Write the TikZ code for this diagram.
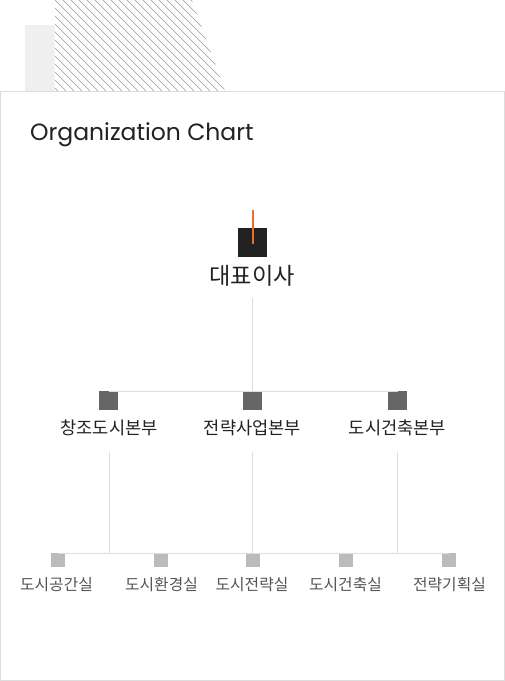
\documentclass[tikz,border=0pt]{standalone}
\usepackage{fontspec}
\setmainfont{Poppins}
\newfontfamily\kr{Noto Sans CJK KR}
\definecolor{boxline}{HTML}{DDDDDD}
\definecolor{deco}{HTML}{EFEFEF}
\definecolor{hatch}{HTML}{999999}
\definecolor{ceofill}{HTML}{222222}
\definecolor{accent}{HTML}{E8702A}
\definecolor{midfill}{HTML}{666666}
\definecolor{lowfill}{HTML}{BBBBBB}
\definecolor{darktext}{HTML}{222222}
\definecolor{lowtext}{HTML}{555555}
\definecolor{conn}{HTML}{DDDDDD}
\tikzset{
  sq/.style={draw=none, inner sep=0pt, outer sep=0pt},
  ceosq/.style={sq, fill=ceofill, minimum size=29pt},
  midsq/.style={sq, fill=midfill, minimum size=19pt},
  lowsq/.style={sq, fill=lowfill, minimum size=14pt},
  ceolabel/.style={inner sep=0pt, font=\kr\fontsize{23.2}{26}\selectfont, text=darktext},
  midlabel/.style={inner sep=0pt, font=\kr\fontsize{17.6}{20}\selectfont, text=darktext},
  lowlabel/.style={inner sep=0pt, font=\kr\fontsize{15.8}{18}\selectfont, text=lowtext},
  link/.style={draw=conn, line width=1pt},
}
\begin{document}
\begin{tikzpicture}[x=1pt,y=-1pt]
\useasboundingbox (0,0) rectangle (505,681);
% decoration
\fill[deco] (25,25) rectangle (55,91);
\begin{scope}
  \clip (55,0) -- (192,0) -- (225,91) -- (55,91) -- cycle;
  \foreach \k in {-12,...,22} {
    \draw[hatch, line width=0.6pt] (55+\k*8,0) -- (55+\k*8+95,95);
  }
\end{scope}
% main box
\fill[white] (0.5,91) rectangle (504.5,680.5);
\draw[boxline, line width=1pt] (0.5,91) rectangle (504.5,680.5);
% title
\node[anchor=base west, inner sep=0pt, font=\fontsize{23.5}{28}\selectfont, text=darktext] (title) at (30,140) {Organization Chart};
% CEO
\node[ceosq] (ceo) at (252.5,242.5) {};
\coordinate (acctop) at (252.5,210);
\coordinate (accbot) at (252.5,244);
\draw[accent, line width=2pt] (acctop) -- (accbot);
\node[ceolabel] (ceol) at (252,276) {대표이사};
% mid level
\node[midsq] (m1) at (108.5,400.5) {};
\node[midsq] (m2) at (252.5,400.5) {};
\node[midsq] (m3) at (397.5,400.5) {};
\coordinate (cdrop) at (252.5,298);
\coordinate (cbar) at (252.5,391);
\draw[link] (cdrop) -- (cbar);
\draw[link] (m1.north) -- (m3.north);
\node[midlabel] (m1l) at (109,428) {창조도시본부};
\node[midlabel] (m2l) at (252.5,428) {전략사업본부};
\node[midlabel] (m3l) at (397.5,428) {도시건축본부};
% low level
\node[lowsq] (l1) at (58,560) {};
\node[lowsq] (l2) at (161,560) {};
\node[lowsq] (l3) at (253,560) {};
\node[lowsq] (l4) at (346,560) {};
\node[lowsq] (l5) at (449,560) {};
\coordinate (d1t) at (109.5,452);
\coordinate (d2t) at (252.5,452);
\coordinate (d3t) at (397.5,452);
\coordinate (d1b) at (109.5,553);
\coordinate (d2b) at (252.5,553);
\coordinate (d3b) at (397.5,553);
\draw[link] (d1t) -- (d1b);
\draw[link] (d2t) -- (d2b);
\draw[link] (d3t) -- (d3b);
\draw[link] (l1.north) -- (l5.north);
\node[lowlabel] (l1l) at (56.5,585) {도시공간실};
\node[lowlabel] (l2l) at (161.5,585) {도시환경실};
\node[lowlabel] (l3l) at (252,585) {도시전략실};
\node[lowlabel] (l4l) at (345.5,585) {도시건축실};
\node[lowlabel] (l5l) at (449.5,585) {전략기획실};
\end{tikzpicture}
\end{document}
